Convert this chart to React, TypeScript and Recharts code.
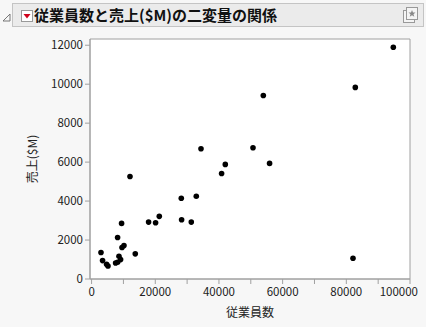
import React from 'react';
import { ScatterChart, Scatter, XAxis, YAxis, ReferenceArea } from 'recharts';

const employees = [2950, 3450, 4710, 5150, 8170, 7540, 8170, 8600, 9110, 9420, 9550, 10170, 12060, 13720, 17900, 20100, 21260, 28170, 28270, 31310, 32880, 40830, 41990, 34360, 50690, 53930, 82820, 94760, 55900, 82100];
const sales = [1357, 944, 753, 670, 2131, 825, 857, 1166, 996, 2853, 1615, 1718, 5263, 1290, 2921, 2890, 3215, 4143, 3044, 2921, 4247, 5418, 5882, 6687, 6739, 9422, 9835, 11899, 5934, 1063];

const xTicks = [0, 10000, 20000, 30000, 40000, 50000, 60000, 70000, 80000, 90000, 100000];
const yTicks = [0, 2000, 4000, 6000, 8000, 10000, 12000];
const xTitle = '従業員数';
const yTitle = '売上($M)';
const chartTitle = '従業員数と売上($M)の二変量の関係';

const data = employees.map((e, i) => ({ x: e, y: sales[i] }));

const FONT = '"Noto Sans CJK JP", "Noto Sans", sans-serif';
const GRAY = '#a0a0a0';
const TXT = '#222';

const Dot = (props: any) => <circle cx={props.cx} cy={props.cy} r={2.8} fill="#000" />;

const XTick = (props: any) => {
  const { x, y, payload, index, visibleTicksCount } = props;
  const v = payload.value as number;
  if (v % 20000 !== 0) return null;
  const last = index === (visibleTicksCount ?? xTicks.length) - 1;
  return (
    <text x={last ? x + 8 : x} y={y} dy="0.71em" textAnchor={last ? 'end' : 'middle'} fill={TXT} fontSize={11.5} fontFamily={FONT}>
      {String(v)}
    </text>
  );
};

const XLabel = (props: any) => {
  const vb = props.viewBox || {};
  return (
    <text x={vb.x + vb.width / 2} y={313} dy="0.35em" textAnchor="middle" fill={TXT} fontSize={12} fontFamily={FONT}>
      {xTitle}
    </text>
  );
};

const YLabel = (props: any) => {
  const vb = props.viewBox || {};
  const cy = vb.y + vb.height / 2;
  return (
    <text x={33} y={cy} dy="0.35em" textAnchor="middle" transform={`rotate(-90 33 ${cy})`} fill={TXT} fontSize={12} fontFamily={FONT}>
      {yTitle}
    </text>
  );
};

export default function App() {
  return (
    <div style={{ position: 'absolute', left: 0, top: 0, width: 426, height: 327, background: '#f7f7f7', fontFamily: FONT }}>
      <svg style={{ position: 'absolute', left: 0, top: 0 }} width={40} height={30}>
        <path d="M3 21 L10 14 L10 21 Z" fill="none" stroke="#777" strokeWidth={1} />
      </svg>
      <div style={{ position: 'absolute', left: 12, top: 3, width: 412, height: 24, background: '#ebebeb', border: '1px solid #c4c4c4', boxSizing: 'border-box' }} />
      <svg style={{ position: 'absolute', left: 0, top: 0 }} width={426} height={30}>
        <rect x={21.5} y={10.5} width={11} height={11} fill="#fff" stroke="#999" />
        <path d="M23.5 14 L30.5 14 L27 18.5 Z" fill="#d0021b" />
        <rect x={403.5} y={10.5} width={11} height={12} fill="#f4f4f4" stroke="#999" />
        <rect x={406.5} y={7.5} width={11} height={12} fill="#f4f4f4" stroke="#999" />
        <path d="M412 10 L413 12.5 L415.5 12.6 L413.5 14.2 L414.3 16.7 L412 15.3 L409.7 16.7 L410.5 14.2 L408.5 12.6 L411 12.5 Z" fill="#888" />
      </svg>
      <div style={{ position: 'absolute', left: 34, top: 5, fontSize: 15, fontWeight: 'bold', color: '#111', lineHeight: '20px', whiteSpace: 'nowrap' }}>
        {chartTitle}
      </div>
      <div style={{ position: 'absolute', left: 0, top: 0 }}>
        <ScatterChart width={426} height={327} margin={{ top: 39, right: 16, bottom: 0, left: 0 }} style={{ overflow: 'visible' }}>
          <ReferenceArea x1={-500} x2={100000} y1={0} y2={12320} fill="#fff" fillOpacity={1} stroke={GRAY} strokeWidth={1} ifOverflow="visible" />
          <XAxis
            type="number"
            dataKey="x"
            domain={[-500, 100000]}
            ticks={xTicks}
            interval={0}
            allowDataOverflow
            height={48}
            tickSize={5}
            tickMargin={4}
            stroke={GRAY}
            tick={<XTick />}
            label={<XLabel />}
          />
          <YAxis
            type="number"
            dataKey="y"
            domain={[0, 12320]}
            ticks={yTicks}
            interval={0}
            allowDataOverflow
            width={90}
            tickSize={5}
            tickMargin={2}
            stroke={GRAY}
            tick={{ fill: TXT, fontSize: 11.5, fontFamily: FONT }}
            label={<YLabel />}
          />
          <Scatter data={data} shape={<Dot />} isAnimationActive={false} />
        </ScatterChart>
      </div>
    </div>
  );
}
